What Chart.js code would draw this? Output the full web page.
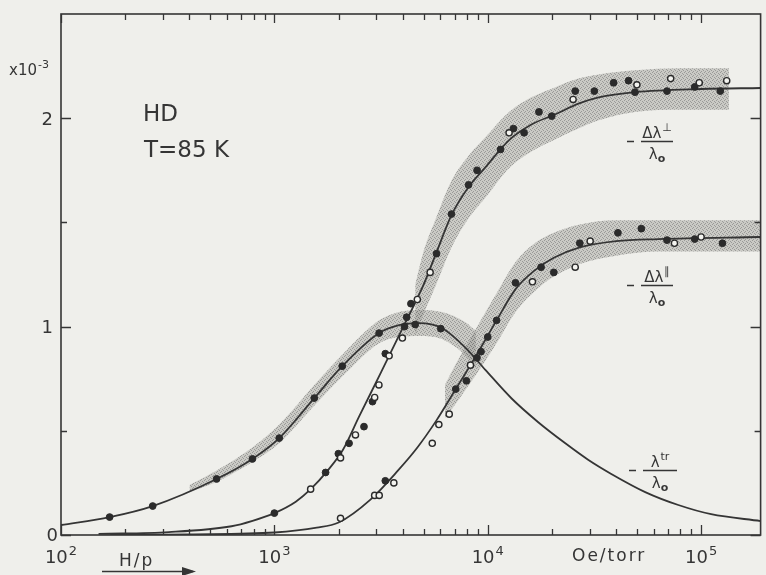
<!DOCTYPE html>
<html>
<head>
<meta charset="UTF-8">
<title>HD T=85 K</title>
<script src="https://cdn.jsdelivr.net/npm/chart.js"></script>
<style>
  body { margin: 0; background: #efefeb; }
  canvas { display: block; }
</style>
</head>
<body>
<canvas id="chart" width="766" height="575"></canvas>
<script>
// H/p in Oe/torr, values in units of 1e-3

// -lambda_tr / lambda_0
const trCurveX = [100, 169, 269, 536, 789, 1054, 1538, 2080, 3097, 3837, 4764, 6095, 7889, 9772, 12940, 17300, 23100, 29650, 37930, 54700, 78200, 111400, 190000];
const trCurveY = [0.048, 0.086, 0.139, 0.269, 0.365, 0.465, 0.657, 0.81, 0.969, 1.007, 1.017, 0.993, 0.897, 0.791, 0.655, 0.54, 0.44, 0.36, 0.293, 0.206, 0.144, 0.10, 0.067];
const trBandX  = [400, 536, 789, 1054, 1538, 2080, 3097, 3837, 4764, 6095, 7889, 8800];
const trBandHi = [0.24, 0.31, 0.42, 0.53, 0.72, 0.865, 1.03, 1.07, 1.08, 1.07, 1.02, 0.98];
const trBandLo = [0.205, 0.255, 0.35, 0.44, 0.62, 0.76, 0.92, 0.95, 0.955, 0.94, 0.86, 0.80];
const trFilledX = [169, 269, 536, 789, 1054, 1538, 2080, 3097, 4571, 6026];
const trFilledY = [0.086, 0.139, 0.269, 0.365, 0.465, 0.657, 0.81, 0.969, 1.01, 0.99];

// -Δλ⊥ / lambda_0
const perpCurveX = [150, 320, 630, 790, 1000, 1260, 1480, 1780, 2100, 2500, 3160, 3980, 5000, 5720, 6760, 8130, 9770, 12590, 16030, 20890, 26610, 33110, 49000, 100000, 190000];
const perpCurveY = [0.005, 0.014, 0.042, 0.068, 0.105, 0.16, 0.22, 0.31, 0.41, 0.57, 0.78, 0.99, 1.20, 1.35, 1.535, 1.67, 1.765, 1.895, 1.97, 2.02, 2.07, 2.10, 2.125, 2.14, 2.145];
const perpBandX  = [4570, 5000, 5720, 6760, 8130, 9770, 12590, 16030, 20890, 26610, 33110, 49000, 80000, 135000];
const perpBandHi = [1.20, 1.36, 1.52, 1.70, 1.82, 1.91, 2.03, 2.10, 2.15, 2.19, 2.21, 2.23, 2.24, 2.24];
const perpBandLo = [0.96, 1.06, 1.20, 1.38, 1.52, 1.62, 1.76, 1.84, 1.90, 1.95, 1.99, 2.03, 2.04, 2.04];
const perpFilledX = [1000, 1738, 1995, 2239, 2630, 2884, 3311, 4074, 4169, 4365, 5754, 6761, 8128, 8913, 11482, 13200, 14800, 17378, 19953, 25700, 31600, 38900, 45700, 48980, 69180, 93300, 123000];
const perpFilledY = [0.105, 0.30, 0.39, 0.44, 0.52, 0.64, 0.87, 1.0, 1.045, 1.11, 1.35, 1.54, 1.68, 1.75, 1.85, 1.95, 1.93, 2.03, 2.01, 2.13, 2.13, 2.17, 2.18, 2.125, 2.13, 2.15, 2.13];
const perpOpenX = [1479, 2042, 2399, 2951, 3090, 3450, 3981, 4677, 5370, 12589, 25119, 50000, 72000, 98000, 131800];
const perpOpenY = [0.22, 0.37, 0.48, 0.66, 0.72, 0.86, 0.945, 1.13, 1.26, 1.93, 2.09, 2.16, 2.19, 2.17, 2.18];

// -Δλ∥ / lambda_0
const parCurveX = [170, 400, 1000, 1580, 2000, 2820, 3800, 4680, 5750, 7080, 8700, 11000, 13500, 16600, 20400, 27000, 40000, 63000, 190000];
const parCurveY = [0, 0.003, 0.012, 0.035, 0.06, 0.17, 0.31, 0.42, 0.55, 0.70, 0.85, 1.03, 1.18, 1.27, 1.33, 1.38, 1.41, 1.42, 1.43];
const parBandX  = [6300, 7080, 8700, 11000, 13500, 16600, 20400, 27000, 40000, 63000, 190000];
const parBandHi = [0.72, 0.82, 0.98, 1.16, 1.31, 1.40, 1.45, 1.49, 1.51, 1.51, 1.51];
const parBandLo = [0.56, 0.63, 0.76, 0.92, 1.07, 1.17, 1.24, 1.30, 1.34, 1.36, 1.36];
const parFilledX = [3311, 7079, 7943, 8900, 9300, 10000, 11000, 13490, 17780, 20400, 27000, 40740, 52480, 69180, 93300, 125900];
const parFilledY = [0.26, 0.70, 0.74, 0.85, 0.88, 0.95, 1.03, 1.21, 1.285, 1.26, 1.40, 1.45, 1.47, 1.415, 1.42, 1.40];
const parOpenX = [2042, 2951, 3100, 3630, 5495, 5900, 6600, 8300, 16200, 25700, 30200, 75000, 100000];
const parOpenY = [0.08, 0.19, 0.19, 0.25, 0.44, 0.53, 0.58, 0.815, 1.215, 1.285, 1.41, 1.40, 1.43];

// axis ticks
const xMajor = [100, 1000, 10000, 100000];
const xMajorExp = ['2', '3', '4', '5'];
const xMinor = [200, 300, 400, 500, 600, 700, 800, 900, 2000, 3000, 4000, 5000, 6000, 7000, 8000, 9000,
                20000, 30000, 40000, 50000, 60000, 70000, 80000, 90000];
const yMajor = [0, 1, 2];
const yMajorLabels = ['0', '1', '2'];
const yMinor = [0.5, 1.5];

const INK = '#353535';
const FONT = '"DejaVu Sans", "Liberation Sans", sans-serif';

function pts(xs, ys) { return xs.map((x, i) => ({ x: x, y: ys[i] })); }

// grey stipple for the scatter bands
function stipple() {
  const c = document.createElement('canvas');
  c.width = 4; c.height = 4;
  const g = c.getContext('2d');
  g.fillStyle = 'rgba(150,150,145,0.42)';
  g.fillRect(0, 0, 4, 4);
  g.fillStyle = 'rgba(95,95,95,0.45)';
  g.fillRect(0, 0, 1, 1); g.fillRect(2, 1, 1, 1); g.fillRect(1, 3, 1, 1); g.fillRect(3, 2, 1, 1);
  return g.createPattern(c, 'repeat');
}
const bandFill = stipple();

function band(xs, hi, lo) {
  return [
    { data: pts(xs, hi), showLine: true, borderWidth: 0, pointRadius: 0, backgroundColor: bandFill, fill: '+1', order: 3, cubicInterpolationMode: 'monotone' },
    { data: pts(xs, lo), showLine: true, borderWidth: 0, pointRadius: 0, fill: false, order: 3, cubicInterpolationMode: 'monotone' }
  ];
}
function curve(xs, ys) {
  return { data: pts(xs, ys), showLine: true, borderColor: INK, borderWidth: 1.8, pointRadius: 0, fill: false, order: 2, cubicInterpolationMode: 'monotone' };
}
function filled(xs, ys) {
  return { data: pts(xs, ys), showLine: false, pointRadius: 3.4, backgroundColor: '#2b2b2b', borderColor: '#2b2b2b', borderWidth: 1, order: 1 };
}
function open(xs, ys) {
  return { data: pts(xs, ys), showLine: false, pointRadius: 3.1, backgroundColor: '#f3f3ef', borderColor: '#2b2b2b', borderWidth: 1.4, order: 0 };
}

// superscripted text: base then raised small part, x is the left edge
function supText(ctx, base, sup, x, y, size) {
  ctx.font = size + 'px ' + FONT;
  ctx.textAlign = 'left';
  ctx.fillText(base, x, y);
  const w = ctx.measureText(base).width;
  ctx.font = Math.round(size * 0.7) + 'px ' + FONT;
  ctx.fillText(sup, x + w + 1, y - size * 0.45);
  return w + 1 + ctx.measureText(sup).width;
}
function supWidth(ctx, base, sup, size) {
  ctx.font = size + 'px ' + FONT;
  const w = ctx.measureText(base).width;
  ctx.font = Math.round(size * 0.7) + 'px ' + FONT;
  return w + 1 + ctx.measureText(sup).width;
}

// "- num / λo" label with the fraction bar
function fraction(ctx, num, sup, xBar, yBar, wBar) {
  ctx.strokeStyle = INK;
  ctx.lineWidth = 1.4;
  ctx.beginPath();
  ctx.moveTo(xBar - 14, yBar); ctx.lineTo(xBar - 7, yBar);
  ctx.moveTo(xBar, yBar); ctx.lineTo(xBar + wBar, yBar);
  ctx.stroke();
  ctx.textBaseline = 'alphabetic';
  const nw = supWidth(ctx, num, sup, 15);
  supText(ctx, num, sup, xBar + (wBar - nw) / 2, yBar - 4, 15);
  ctx.font = '15px ' + FONT;
  const dw = ctx.measureText('λ').width;
  ctx.font = 'bold 11px ' + FONT;
  const ow = ctx.measureText('o').width;
  const dx = xBar + (wBar - dw - ow) / 2;
  ctx.font = '15px ' + FONT;
  ctx.fillText('λ', dx, yBar + 17);
  ctx.font = 'bold 11px ' + FONT;
  ctx.fillText('o', dx + dw, yBar + 20);
}

const framePlugin = {
  id: 'frame',
  beforeDraw(chart) {
    const ctx = chart.ctx;
    ctx.save();
    ctx.fillStyle = '#efefeb';
    ctx.fillRect(0, 0, chart.width, chart.height);
    ctx.restore();
  },
  afterDraw(chart) {
    const ctx = chart.ctx;
    const a = chart.chartArea;
    const xs = chart.scales.x, ys = chart.scales.y;
    ctx.save();
    ctx.strokeStyle = INK;
    ctx.fillStyle = INK;
    ctx.lineWidth = 1.6;
    ctx.strokeRect(a.left, a.top, a.right - a.left, a.bottom - a.top);

    // x ticks (inside, bottom and top)
    ctx.lineWidth = 1.3;
    ctx.beginPath();
    xMajor.forEach(v => {
      const px = Math.round(xs.getPixelForValue(v)) + 0.5;
      ctx.moveTo(px, a.bottom); ctx.lineTo(px, a.bottom - 10);
      ctx.moveTo(px, a.top); ctx.lineTo(px, a.top + 9);
    });
    xMinor.forEach(v => {
      const px = Math.round(xs.getPixelForValue(v)) + 0.5;
      ctx.moveTo(px, a.bottom); ctx.lineTo(px, a.bottom - 6);
      ctx.moveTo(px, a.top); ctx.lineTo(px, a.top + 6);
    });
    // y ticks (inside, left and right)
    yMajor.forEach(v => {
      const py = Math.round(ys.getPixelForValue(v)) + 0.5;
      ctx.moveTo(a.left, py); ctx.lineTo(a.left + 10, py);
      ctx.moveTo(a.right, py); ctx.lineTo(a.right - 10, py);
    });
    yMinor.forEach(v => {
      const py = Math.round(ys.getPixelForValue(v)) + 0.5;
      ctx.moveTo(a.left, py); ctx.lineTo(a.left + 6, py);
      ctx.moveTo(a.right, py); ctx.lineTo(a.right - 6, py);
    });
    ctx.stroke();

    // tick labels
    ctx.textBaseline = 'alphabetic';
    xMajor.forEach((v, i) => {
      const px = xs.getPixelForValue(v);
      const w = supWidth(ctx, '10', xMajorExp[i], 18);
      supText(ctx, '10', xMajorExp[i], px - w / 2, 563, 18);
    });
    ctx.font = '18px ' + FONT;
    ctx.textAlign = 'right';
    ctx.textBaseline = 'middle';
    yMajor.forEach((v, i) => {
      const py = ys.getPixelForValue(v);
      ctx.fillText(yMajorLabels[i], a.left - (i === 0 ? 3 : 8), py + (i === 0 ? 1 : 2));
    });
    ctx.textBaseline = 'alphabetic';
    supText(ctx, 'x10', '-3', 9, 75, 15);

    // axis title pieces
    ctx.font = '17px ' + FONT;
    ctx.textAlign = 'left';
    ctx.letterSpacing = '2px';
    ctx.fillText('H/p', 119, 566);
    ctx.fillText('Oe/torr', 572, 561);
    ctx.letterSpacing = '0px';
    ctx.lineWidth = 1.5;
    ctx.beginPath();
    ctx.moveTo(102, 571.5); ctx.lineTo(193, 571.5);
    ctx.stroke();
    ctx.beginPath();
    ctx.moveTo(196, 571.5); ctx.lineTo(182, 567); ctx.lineTo(182, 576); ctx.closePath();
    ctx.fill();

    // sample and temperature
    ctx.font = '23px ' + FONT;
    ctx.fillText('HD', 143, 121);
    ctx.fillText('T=85 K', 144, 157);

    // curve labels
    fraction(ctx, 'Δλ', '⊥', 641, 141.5, 32);
    fraction(ctx, 'Δλ', '∥', 641, 285.5, 32);
    fraction(ctx, 'λ', 'tr', 643, 470.5, 34);
    ctx.restore();
  }
};

new Chart(document.getElementById('chart').getContext('2d'), {
  type: 'scatter',
  data: {
    datasets: [
      filled(trFilledX, trFilledY),
      open(perpOpenX, perpOpenY),
      filled(perpFilledX, perpFilledY),
      open(parOpenX, parOpenY),
      filled(parFilledX, parFilledY),
      curve(trCurveX, trCurveY),
      curve(perpCurveX, perpCurveY),
      curve(parCurveX, parCurveY),
      ...band(trBandX, trBandHi, trBandLo),
      ...band(perpBandX, perpBandHi, perpBandLo),
      ...band(parBandX, parBandHi, parBandLo)
    ]
  },
  options: {
    responsive: false,
    animation: false,
    layout: { padding: { left: 61, right: 4, top: 14, bottom: 40 } },
    plugins: { legend: { display: false }, tooltip: { enabled: false } },
    scales: {
      x: { type: 'logarithmic', min: 100, max: 190000, display: false },
      y: { type: 'linear', min: 0, max: 2.5, display: false }
    }
  },
  plugins: [framePlugin]
});
</script>
</body>
</html>
